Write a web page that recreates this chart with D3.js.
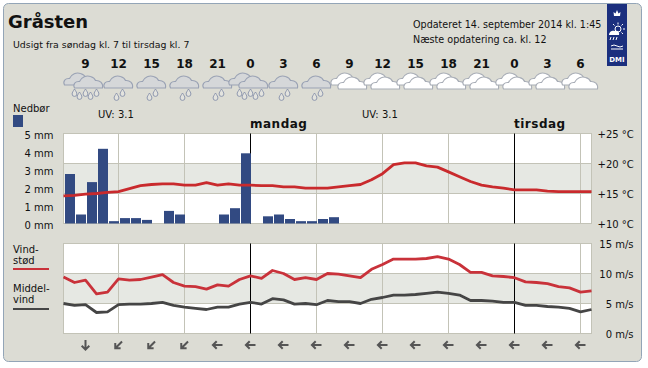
<!DOCTYPE html>
<html>
  <head>
    <meta charset="utf-8">
    <title>Gråsten</title>
    <script src="https://cdn.jsdelivr.net/npm/d3@7"></script>
    <style>
      html, body { margin: 0; padding: 0; background: #fff; }
      svg { display: block; }
      text { font-family: "DejaVu Sans", sans-serif; fill: #111; }
    </style>
  </head>
  <body>
    <svg id="container" width="648" height="368"></svg>
  <script>
    // hours counted from sunday 00:00, so mandag = 24 and tirsdag = 48
    const hourTicks = [9, 12, 15, 18, 21, 24, 27, 30, 33, 36, 39, 42, 45, 48, 51, 54];
    const hourLabels = [9, 12, 15, 18, 21, 0, 3, 6, 9, 12, 15, 18, 21, 0, 3, 6];
    const greyLines = [12, 18, 30, 36, 42, 54];
    const midnights = [24, 48];
    const dayNames = ["mandag", "tirsdag"];
    const iconKinds = ["heavy", "rain", "rain", "rain", "rain", "heavy", "rain", "rain",
                       "white", "white", "white", "white", "white", "white", "white", "white"];
    const windDirs = [180, 225, 225, 225, 270, 270, 270, 270, 270, 270, 270, 270, 270, 270, 270, 270];

    const rainMm = [2.75, 0.5, 2.3, 4.15, 0.13, 0.3, 0.3, 0.2, 0, 0.7, 0.5, 0, 0, 0, 0.5, 0.85, 3.9, 0,
                    0.4, 0.5, 0.25, 0.13, 0.13, 0.25, 0.35];
    const tempC = [14.6, 14.7, 14.9, 15, 15.2, 15.3, 15.8, 16.3, 16.5, 16.6, 16.6, 16.4, 16.4, 16.8, 16.4, 16.6,
                   16.4, 16.4, 16.3, 16.3, 16.1, 16.1, 15.9, 15.9, 15.9, 16.1, 16.3, 16.5, 17.3, 18.3, 19.8, 20.1,
                   20.1, 19.6, 19.4, 18.6, 17.8, 17, 16.4, 16.1, 15.9, 15.6, 15.6, 15.6, 15.4, 15.3, 15.3, 15.3, 15.3];
    const gust = [9.4, 8.5, 8.9, 6.6, 6.9, 9.1, 8.9, 9, 9.4, 9.8, 8.5, 7.9, 7.8, 7.4, 8.1, 7.9,
                  9, 9.6, 9.2, 10.5, 10, 9, 9.3, 9, 10, 9.9, 9.6, 9.3, 10.7, 11.5, 12.4, 12.4,
                  12.4, 12.5, 12.8, 12.4, 11.5, 10.2, 10.2, 9.6, 9.5, 9.3, 8.6, 8.5, 8.3, 7.8, 7.6, 6.9, 7.1];
    const meanWind = [5, 4.7, 4.8, 3.5, 3.6, 4.8, 4.9, 4.9, 5, 5.2, 4.7, 4.4, 4.2, 4, 4.4, 4.4,
                      4.9, 5.2, 4.9, 5.8, 5.6, 4.9, 5, 4.8, 5.5, 5.3, 5.3, 5, 5.7, 6, 6.4, 6.4,
                      6.5, 6.7, 6.9, 6.7, 6.4, 5.5, 5.5, 5.4, 5.2, 5.2, 4.7, 4.7, 4.5, 4.4, 4.2, 3.6, 4];
    const mmTicks = [0, 1, 2, 3, 4, 5];
    const tempTicks = [10, 15, 20, 25];
    const windTicks = [0, 5, 10, 15];

    const startHour = 7;
    const svg = d3.select("#container");
    const grid = "#c3c3b7";

    const x = d3.scaleLinear().domain([startHour, 55]).range([63.5, 591.5]);
    const yMm = d3.scaleLinear().domain([0, 5]).range([223.5, 133.5]);
    const yTemp = d3.scaleLinear().domain([10, 25]).range([223.5, 133.5]);
    const yWind = d3.scaleLinear().domain([0, 15]).range([333.5, 243.5]);

    // panel
    svg.append("rect").attr("x", 3.5).attr("y", 3.5).attr("width", 638).attr("height", 358).attr("rx", 5)
      .attr("fill", "#dcdcd4").attr("stroke", "#93a5b7");

    function text(str, tx, ty, size, opts = {}) {
      return svg.append("text").attr("x", tx).attr("y", ty).attr("font-size", size)
        .attr("font-weight", opts.bold ? "bold" : "normal")
        .attr("text-anchor", opts.anchor || "start")
        .attr("letter-spacing", opts.spacing || 0)
        .text(str);
    }

    text("Gråsten", 8, 28, 18, {bold: true});
    text("Udsigt fra søndag kl. 7 til tirsdag kl. 7", 13, 48, 9.4);
    text("Opdateret 14. september 2014 kl. 1:45", 413, 28, 9.6);
    text("Næste opdatering ca. kl. 12", 413, 43, 9.6);
    text("Nedbør", 13, 112, 10);
    text("UV: 3.1", 98, 118, 10);
    text("UV: 3.1", 362, 118, 10);

    svg.selectAll(".hour").data(hourTicks).join("text").attr("class", "hour")
      .attr("x", d => x(d)).attr("y", 68)
      .attr("text-anchor", "middle").attr("font-size", 12).attr("font-weight", "bold")
      .text((d, i) => hourLabels[i]);

    svg.selectAll(".day").data(midnights).join("text").attr("class", "day")
      .attr("x", d => x(d) - 0.5).attr("y", 128)
      .attr("font-size", 12).attr("font-weight", "bold").attr("letter-spacing", 0.5)
      .text((d, i) => dayNames[i]);

    // weather icons
    const cloudPath = "M-14,0 C-16,-4 -13,-7 -9,-6.5 C-7,-11 -2,-13 2,-11.5 C5,-10.5 6.5,-9 7,-7.5 C11,-8 15,-5 14,0 Z";
    const dropPath = "M0,-4 C1.5,-1.5 2.4,-0.4 2.4,1 A2.4,2.4 0 0 1 -2.4,1 C-2.4,-0.4 -1.5,-1.5 0,-4 Z";
    const icons = svg.selectAll(".icon").data(hourTicks).join("g").attr("class", "icon")
      .attr("transform", d => `translate(${x(d)},88)`);

    function addCloud(sel, dx, dy, fill, stroke) {
      sel.append("path").attr("d", cloudPath).attr("transform", `translate(${dx},${dy})`)
        .attr("fill", fill).attr("stroke", stroke).attr("stroke-width", 1.1);
    }
    function addDrop(sel, dx, dy) {
      sel.append("path").attr("d", dropPath).attr("transform", `translate(${dx},${dy})`)
        .attr("fill", "#e3e3de").attr("stroke", "#8791aa").attr("stroke-width", 0.9);
    }
    icons.each(function(d, i) {
      const g = d3.select(this);
      const kind = iconKinds[i];
      if (kind === "heavy") {
        addCloud(g, -7, -3, "#d5d7d9", "#9aa2b4");
        addCloud(g, 3, 0, "#d5d7d9", "#9aa2b4");
        [[-11, 5], [-6, 8], [0, 5], [5, 8], [11, 5]].forEach(p => addDrop(g, p[0], p[1]));
      } else if (kind === "rain") {
        addCloud(g, 0, 0, "#d5d7d9", "#9aa2b4");
        [[-2, 9], [4, 5]].forEach(p => addDrop(g, p[0], p[1]));
      } else {
        addCloud(g, -4, -3, "#fff", "#a8adb6");
        addCloud(g, 3, 1, "#fff", "#a8adb6");
      }
    });

    // plots: band, grid and axes
    function plotFrame(yScale, bandFrom, bandTo, leftTicks, leftFmt, rightTicks, rightFmt) {
      const top = yScale.range()[1], bottom = yScale.range()[0];
      const plot = svg.append("g");
      plot.append("rect").attr("x", x.range()[0]).attr("y", top)
        .attr("width", x.range()[1] - x.range()[0]).attr("height", bottom - top).attr("fill", "#fff");
      plot.append("rect").attr("x", x.range()[0]).attr("y", yScale(bandTo))
        .attr("width", x.range()[1] - x.range()[0]).attr("height", yScale(bandFrom) - yScale(bandTo))
        .attr("fill", "#e6e8e3");

      const vGrid = plot.append("g").attr("transform", `translate(0,${bottom})`)
        .call(d3.axisBottom(x).offset(0).tickValues(greyLines).tickSize(top - bottom).tickFormat(""));
      vGrid.select(".domain").remove();
      vGrid.selectAll("line").attr("stroke", grid);

      const hGrid = plot.append("g").attr("transform", `translate(${x.range()[0]},0)`)
        .call(d3.axisRight(yScale).offset(0).tickValues([bandFrom, bandTo])
          .tickSize(x.range()[1] - x.range()[0]).tickFormat(""));
      hGrid.select(".domain").remove();
      hGrid.selectAll("line").attr("stroke", grid);

      plot.append("rect").attr("x", x.range()[0]).attr("y", top)
        .attr("width", x.range()[1] - x.range()[0]).attr("height", bottom - top)
        .attr("fill", "none").attr("stroke", grid);

      const vDay = plot.append("g").attr("transform", `translate(0,${bottom})`)
        .call(d3.axisBottom(x).offset(0).tickValues(midnights).tickSize(top - bottom).tickFormat(""));
      vDay.select(".domain").remove();
      vDay.selectAll("line").attr("stroke", "#000");

      if (leftTicks) {
        const left = svg.append("g").attr("transform", `translate(${x.range()[0]},0)`)
          .call(d3.axisLeft(leftTicks.scale).offset(0).tickValues(leftTicks.values).tickSize(0).tickPadding(10).tickFormat(leftFmt));
        left.select(".domain").remove();
        left.selectAll("text").attr("font-family", "DejaVu Sans").attr("font-size", 10).attr("dy", "0.55em");
      }
      const right = svg.append("g").attr("transform", `translate(${x.range()[1]},0)`)
        .call(d3.axisRight(rightTicks.scale).offset(0).tickValues(rightTicks.values).tickSize(0).tickPadding(rightTicks.pad).tickFormat(rightFmt));
      right.select(".domain").remove();
      right.selectAll("text").attr("font-family", "DejaVu Sans").attr("font-size", 10)
        .attr("text-anchor", rightTicks.anchor).attr("dy", "0.42em");
    }

    plotFrame(yTemp, 15, 20, {scale: yMm, values: mmTicks}, d => d + " mm",
      {scale: yTemp, values: tempTicks, pad: 6, anchor: "start"}, d => "+" + d + " °C");
    plotFrame(yWind, 5, 10, null, null,
      {scale: yWind, values: windTicks, pad: 42, anchor: "end"}, d => d + " m/s");

    // rain bars
    svg.append("g").selectAll("rect").data(rainMm).join("rect")
      .attr("x", (d, i) => x(startHour + i) + 1.5)
      .attr("width", 10)
      .attr("y", d => yMm(d))
      .attr("height", d => yMm(0) - yMm(d))
      .attr("fill", "#324a82");

    // lines
    function drawLine(values, yScale, color) {
      const line = d3.line().x((d, i) => x(startHour + i)).y(d => yScale(d));
      svg.append("path").datum(values).attr("d", line).attr("fill", "none")
        .attr("stroke", color).attr("stroke-width", 2.8).attr("stroke-linejoin", "round");
    }
    drawLine(tempC, yTemp, "#c92a2d");
    drawLine(gust, yWind, "#c9323a");
    drawLine(meanWind, yWind, "#454545");

    // legends
    svg.append("rect").attr("x", 13).attr("y", 115).attr("width", 10).attr("height", 12).attr("fill", "#324a82");
    text("Vind-", 13, 253, 10);
    text("stød", 13, 263.5, 10);
    svg.append("rect").attr("x", 13).attr("y", 268).attr("width", 36).attr("height", 2).attr("fill", "#c9323a");
    text("Middel-", 13, 292, 10);
    text("vind", 13, 303, 10);
    svg.append("rect").attr("x", 13).attr("y", 308).attr("width", 36).attr("height", 2).attr("fill", "#454545");

    // wind arrows
    svg.selectAll(".arrow").data(hourTicks).join("path").attr("class", "arrow")
      .attr("d", "M0,-4.5 L0,5 M-3.8,-0.8 L0,-4.6 L3.8,-0.8")
      .attr("transform", (d, i) => `translate(${x(d)},345) rotate(${windDirs[i]})`)
      .attr("fill", "none").attr("stroke", "#555").attr("stroke-width", 2);

    // DMI logo
    const logo = svg.append("g").attr("transform", "translate(607,4)");
    logo.append("rect").attr("width", 20).attr("height", 62).attr("fill", "#1b2f7e");
    logo.append("path").attr("d", "M7,12 L6.5,8 L8.5,9.5 L10,6 L11.5,9.5 L13.5,8 L13,12 Z").attr("fill", "#fff");
    logo.append("circle").attr("cx", 11).attr("cy", 25).attr("r", 3).attr("fill", "none").attr("stroke", "#fff");
    logo.append("path")
      .attr("d", "M11,18.5 V20.5 M16,20 L14.5,21.5 M18,25 H16 M16,30 L14.5,28.5 M6,20 L7.5,21.5")
      .attr("stroke", "#fff").attr("fill", "none");
    logo.append("path").attr("d", "M2,31 C2,27 6,26 8,27 C10,26 13,28 12,31 Z").attr("fill", "#fff");
    logo.append("path").attr("d", "M4,33 L3,36 M7,33 L6,36 M10,33 L9,36").attr("stroke", "#fff").attr("fill", "none");
    logo.append("path").attr("d", "M4,42 Q7,40 10,42 T16,42 M4,45 H16").attr("stroke", "#fff").attr("fill", "none");
    logo.append("text").attr("x", 10).attr("y", 57.5).attr("text-anchor", "middle").attr("font-size", 7)
      .attr("font-weight", "bold").style("fill", "#fff").text("DMI");
  </script>
  </body>
</html>
